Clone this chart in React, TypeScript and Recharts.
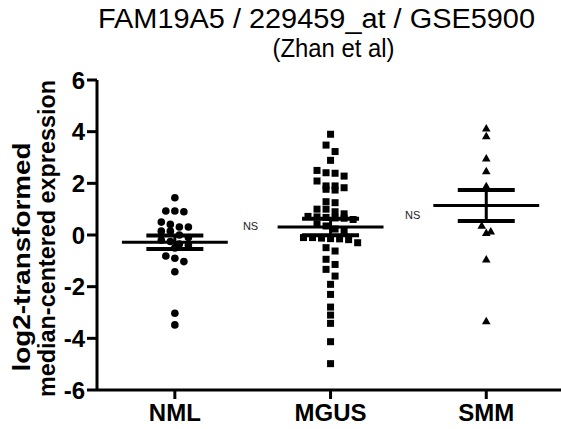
import React from 'react';
import { ScatterChart, Scatter, XAxis, YAxis, ReferenceLine } from 'recharts';

const categories = ['NML', 'MGUS', 'SMM'];
const nmlValues = [1.44, 0.93, 0.9, 0.93, 0.5, 0.41, 0.31, 0.31, 0.15, 0.15, 0.0, -0.1, -0.2, -0.25, -0.35, -0.4, -0.5, -0.81, -0.9, -1.03, -1.42, -3.03, -3.48];
const mgusValues = [3.9, 3.48, 3.23, 2.89, 2.5, 2.41, 2.39, 2.28, 2.09, 1.9, 1.9, 1.83, 1.77, 1.74, 1.29, 1.25, 1.0, 1.0, 0.9, 0.82, 0.72, 0.7, 0.68, 0.66, 0.65, 0.6, 0.42, 0.35, 0.23, 0.15, -0.1, -0.1, -0.12, -0.14, -0.15, -0.18, -0.3, -0.49, -0.62, -0.94, -1.14, -1.33, -1.59, -1.91, -2.3, -2.79, -3.1, -3.42, -4.13, -4.98];
const smmValues = [4.13, 3.83, 2.97, 2.48, 1.9, 0.37, 0.15, 0.09, -0.94, -3.33];
const groupMeans = [-0.28, 0.31, 1.14];
const groupSems = [0.26, 0.32, 0.6];
const yTicks = [-6, -4, -2, 0, 2, 4, 6];
const xTicks = [1, 2, 3];
const nsLabels = [
  { x: 1.486, y: 0.33, text: 'NS' },
  { x: 2.527, y: 0.79, text: 'NS' },
];
const titleLines = ['FAM19A5 / 229459_at / GSE5900', '(Zhan et al)'];
const yLabelLines = ['log2-transformed', 'median-centered expression'];

const FONT = '"Liberation Sans", Arial, Helvetica, sans-serif';

function swarm(values: number[], center: number, binH = 0.27, step = 0.058) {
  const sorted = [...values].sort((a, b) => b - a);
  const pts: { x: number; y: number }[] = [];
  let i = 0;
  while (i < sorted.length) {
    const start = sorted[i];
    const row: number[] = [];
    while (i < sorted.length && sorted[i] >= start - binH) {
      row.push(sorted[i]);
      i++;
    }
    const k = row.length;
    row.forEach((v, j) => pts.push({ x: center + (j - (k - 1) / 2) * step, y: v }));
  }
  return pts;
}

const nmlData = swarm(nmlValues, 1);
const mgusData = swarm(mgusValues, 2);
const smmData = swarm(smmValues, 3);

const Circle = (p: any) => <circle cx={p.cx} cy={p.cy} r={3.8} fill="#000" />;
const Square = (p: any) => <rect x={p.cx - 3.5} y={p.cy - 3.5} width={7} height={7} fill="#000" />;
const Triangle = (p: any) => (
  <polygon points={`${p.cx},${p.cy - 4.2} ${p.cx + 4.3},${p.cy + 3.3} ${p.cx - 4.3},${p.cy + 3.3}`} fill="#000" />
);
const NSText = (p: any) => (
  <text x={p.cx} y={p.cy} textAnchor="middle" dominantBaseline="central" fontSize={11} fontFamily={FONT} fill="#222">
    {p.payload.text}
  </text>
);

export default function App() {
  const meanHalf = 0.34;
  const semHalf = 0.183;
  return (
    <div style={{ position: 'absolute', left: 0, top: 0, width: 561, height: 429, background: '#fff' }}>
      <ScatterChart width={561} height={429} margin={{ top: 80, right: 0, bottom: 0, left: 0 }}>
        <XAxis
          type="number"
          dataKey="x"
          domain={[0.5, 3.48]}
          ticks={xTicks}
          tickFormatter={(v: number) => categories[v - 1]}
          axisLine={{ stroke: '#000', strokeWidth: 3 }}
          tickLine={{ stroke: '#000', strokeWidth: 3 }}
          tickSize={9}
          tickMargin={5}
          height={39}
          allowDataOverflow
          tick={{ fill: '#000', fontSize: 24, fontWeight: 700, fontFamily: FONT }}
        />
        <YAxis
          type="number"
          dataKey="y"
          domain={[-6, 6]}
          ticks={yTicks}
          width={97}
          axisLine={{ stroke: '#000', strokeWidth: 3 }}
          tickLine={{ stroke: '#000', strokeWidth: 3 }}
          tickSize={10}
          tickMargin={2}
          tick={{ fill: '#000', fontSize: 24, fontWeight: 700, fontFamily: FONT }}
        />
        <Scatter data={nmlData} shape={Circle} isAnimationActive={false} />
        <Scatter data={mgusData} shape={Square} isAnimationActive={false} />
        <Scatter data={smmData} shape={Triangle} isAnimationActive={false} />
        <Scatter data={nsLabels} shape={NSText} isAnimationActive={false} />
        {groupMeans.map((m, i) => (
          <ReferenceLine
            key={'m' + i}
            segment={[{ x: i + 1 - meanHalf, y: m }, { x: i + 1 + meanHalf, y: m }]}
            stroke="#000"
            strokeWidth={3}
            ifOverflow="visible"
          />
        ))}
        {groupMeans.map((m, i) => (
          <ReferenceLine
            key={'su' + i}
            segment={[{ x: i + 1 - semHalf, y: m + groupSems[i] }, { x: i + 1 + semHalf, y: m + groupSems[i] }]}
            stroke="#000"
            strokeWidth={4}
            ifOverflow="visible"
          />
        ))}
        {groupMeans.map((m, i) => (
          <ReferenceLine
            key={'sl' + i}
            segment={[{ x: i + 1 - semHalf, y: m - groupSems[i] }, { x: i + 1 + semHalf, y: m - groupSems[i] }]}
            stroke="#000"
            strokeWidth={4}
            ifOverflow="visible"
          />
        ))}
        {groupMeans.map((m, i) => (
          <ReferenceLine
            key={'sv' + i}
            segment={[{ x: i + 1, y: m - groupSems[i] }, { x: i + 1, y: m + groupSems[i] }]}
            stroke="#000"
            strokeWidth={3}
            ifOverflow="visible"
          />
        ))}
      </ScatterChart>
      <svg width={561} height={429} style={{ position: 'absolute', left: 0, top: 0, pointerEvents: 'none' }}>
        <text x={316.5} y={28} textAnchor="middle" fontSize={27} textLength={437} lengthAdjust="spacingAndGlyphs" fontFamily={FONT} fill="#000">
          {titleLines[0]}
        </text>
        <text x={333.5} y={57} textAnchor="middle" fontSize={26} textLength={122} lengthAdjust="spacingAndGlyphs" fontFamily={FONT} fill="#000">
          {titleLines[1]}
        </text>
        <text transform="translate(30,257) rotate(-90)" textAnchor="middle" fontSize={24} fontWeight={700} textLength={229} lengthAdjust="spacingAndGlyphs" fontFamily={FONT} fill="#000">
          {yLabelLines[0]}
        </text>
        <text transform="translate(55,238.5) rotate(-90)" textAnchor="middle" fontSize={24} fontWeight={700} textLength={317} lengthAdjust="spacingAndGlyphs" fontFamily={FONT} fill="#000">
          {yLabelLines[1]}
        </text>
      </svg>
    </div>
  );
}
